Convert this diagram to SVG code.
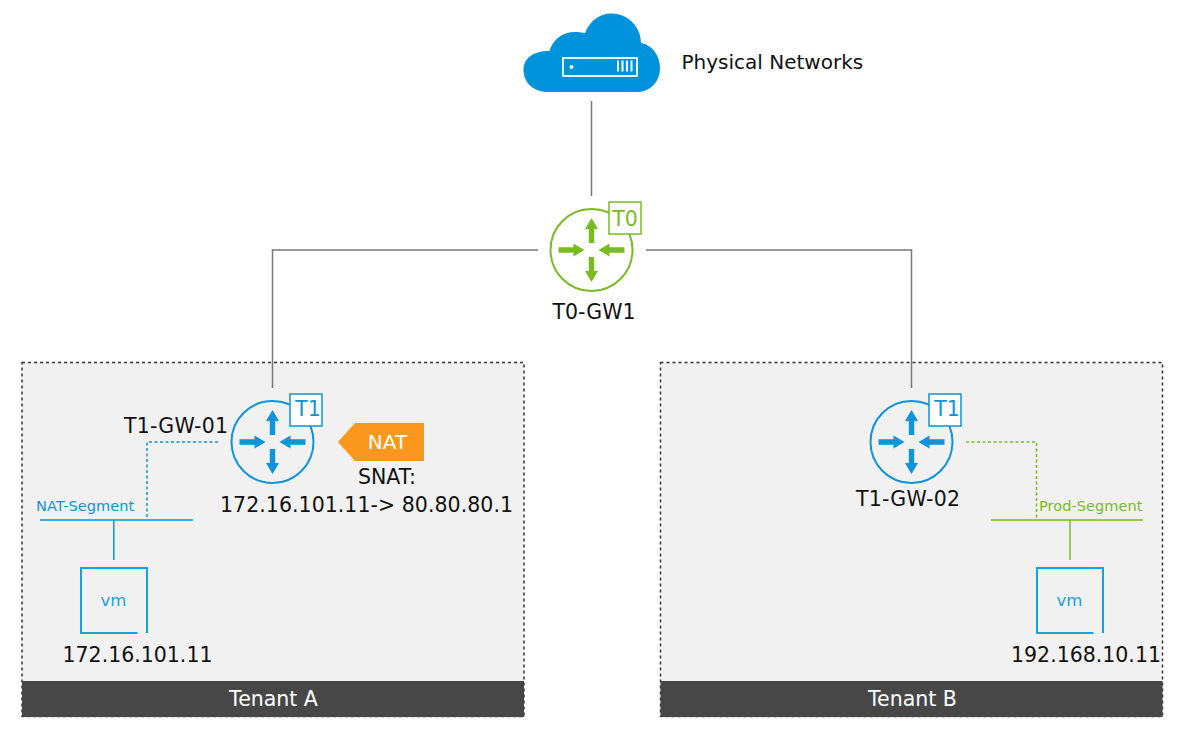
<svg xmlns="http://www.w3.org/2000/svg" width="1184" height="730" viewBox="0 0 1184 730">
<style>
text{font-family:"DejaVu Sans","Liberation Sans",sans-serif;fill:#111}
.lbl{font-size:20.500px}
.tag{font-size:20.500px;text-anchor:middle}
.blue{color:#0e93dc}
.green{color:#78bc22}
.tenant{fill:#f1f1f1;stroke:#333;stroke-width:1.500;stroke-dasharray:3 3}
.bar{fill:#474748}
.wan{fill:none;stroke:#777;stroke-width:1.500}
.ring{fill:none;stroke:currentColor;stroke-width:2}
.badge{fill:#fff;stroke:currentColor;stroke-width:1.500}
.seg{fill:none;stroke-width:1.500}
.dot{stroke-dasharray:3 2.500}
.cap{font-size:20.500px;fill:#fff;text-anchor:middle}
.segtext{font-size:14.600px}
</style>
<defs>
<g id="arrows" fill="currentColor">
<path d="M-2.700-7V-21H-6.500L0-32 6.500-21H2.700V-7Z"/>
<path d="M-2.700 7V21H-6.500L0 32 6.500 21H2.700V7Z"/>
<path d="M-33-2.700H-18V-6.500L-7 0-18 6.500V2.700H-33Z"/>
<path d="M33-2.700H18V-6.500L7 0 18 6.500V2.700H33Z"/>
</g>
<g id="vmbox">
<path d="M137.500 633H81V568H147V633" fill="none" stroke="#16a0e6" stroke-width="2"/>
<text x="113.500" y="606" text-anchor="middle" style="font-size:16.500px;fill:#16a0e6">vm</text>
</g>
</defs>

<g id="tenant-a">
<rect class="tenant" x="22" y="362.500" width="502" height="354"/>
<rect class="bar" x="22" y="681" width="502" height="36"/>
<text class="cap" x="273.500" y="705.500">Tenant A</text>
</g>
<g id="tenant-b">
<rect class="tenant" x="660.500" y="362.500" width="502" height="354"/>
<rect class="bar" x="660.500" y="681" width="502" height="36"/>
<text class="cap" x="912.500" y="705.500">Tenant B</text>
</g>

<g id="connectors">
<path class="wan" d="M591.500 101V196"/>
<path class="wan" d="M538 250H272.500V388"/>
<path class="wan" d="M646 250H911.500V388"/>
<path class="seg dot" stroke="#0e93dc" d="M218 442H147V520"/>
<path class="seg" stroke="#0e93dc" d="M40 520H193M113.800 520V560"/>
<path class="seg dot" stroke="#78bc22" d="M966 442H1036.500V519"/>
<path class="seg" stroke="#78bc22" d="M991 520H1143M1070 520V560"/>
</g>

<g id="cloud">
<path fill="#0093dc" d="M548 92C533 92 523.500 82 523.500 70C523.500 59 532 51 549.500 51C553 39 563 32 575 32C578 32 582 32.500 585 33C590 20 601 13.500 611 13.500C628 13.500 641 27 641 43C652 45 660 55 660 68C660 82 650 92 637 92Z"/>
<rect x="563" y="58" width="74" height="18" fill="none" stroke="#fff" stroke-width="1.800"/>
<circle cx="571.500" cy="67" r="2" fill="#fff"/>
<path d="M618 60.500V71.500M622.500 60.500V71.500M627 60.500V71.500M631.500 60.500V71.500" stroke="#fff" stroke-width="2"/>
<text x="681.500" y="69" style="font-size:20px">Physical Networks</text>
</g>

<g id="t0-gw1" class="green">
<circle class="ring" cx="591.500" cy="250" r="41"/>
<use href="#arrows" x="591.500" y="250"/>
<rect class="badge" x="609" y="202" width="32" height="32"/>
<text class="tag" x="625" y="226" style="fill:#78bc22">T0</text>
<text class="lbl" x="594" y="319" text-anchor="middle">T0-GW1</text>
</g>

<g id="t1-gw-01" class="blue">
<circle class="ring" cx="272.500" cy="442" r="41"/>
<use href="#arrows" x="272.500" y="442"/>
<rect class="badge" x="290" y="394" width="32" height="32"/>
<text class="tag" x="308" y="416" style="fill:#0e93dc">T1</text>
<text class="lbl" x="176" y="433" text-anchor="middle" textLength="104">T1-GW-01</text>
</g>

<g id="t1-gw-02" class="blue">
<circle class="ring" cx="911.500" cy="442" r="41"/>
<use href="#arrows" x="911.500" y="442"/>
<rect class="badge" x="929" y="394" width="32" height="32"/>
<text class="tag" x="947" y="416" style="fill:#0e93dc">T1</text>
<text class="lbl" x="908" y="506" text-anchor="middle" textLength="104">T1-GW-02</text>
</g>

<g id="nat">
<path fill="#f9981d" d="M338 442L355 423H424V461H355Z"/>
<text x="387.500" y="448.500" text-anchor="middle" style="font-size:20px;fill:#fff">NAT</text>
<text class="lbl" x="387" y="484" text-anchor="middle">SNAT:</text>
<text class="lbl" x="220" y="512" textLength="293">172.16.101.11-&gt; 80.80.80.1</text>
</g>

<g id="nat-segment">
<text class="segtext" x="36" y="511" style="fill:#0e93dc">NAT-Segment</text>
</g>
<g id="vm-a">
<use href="#vmbox"/>
<text class="lbl" x="137.500" y="662" text-anchor="middle">172.16.101.11</text>
</g>
<g id="prod-segment">
<text class="segtext" x="1039" y="511" style="fill:#78bc22">Prod-Segment</text>
</g>
<g id="vm-b">
<use href="#vmbox" x="956"/>
<text class="lbl" x="1086" y="662" text-anchor="middle">192.168.10.11</text>
</g>
</svg>
